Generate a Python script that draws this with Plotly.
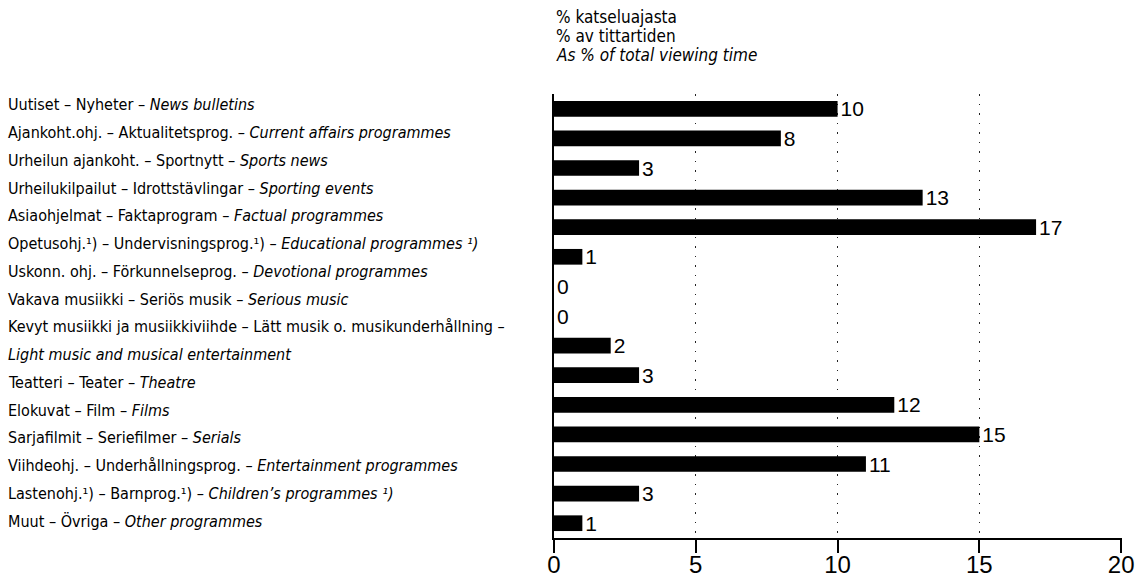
import plotly.graph_objects as go

categories = [
    "Uutiset – Nyheter – <i>News bulletins</i>",
    "Ajankoht.ohj. – Aktualitetsprog. – <i>Current affairs programmes</i>",
    "Urheilun ajankoht. – Sportnytt – <i>Sports news</i>",
    "Urheilukilpailut – Idrottstävlingar – <i>Sporting events</i>",
    "Asiaohjelmat – Faktaprogram – <i>Factual programmes</i>",
    "Opetusohj.¹) – Undervisningsprog.¹) – <i>Educational programmes ¹)</i>",
    "Uskonn. ohj. – Förkunnelseprog. – <i>Devotional programmes</i>",
    "Vakava musiikki – Seriös musik – <i>Serious music</i>",
    "Kevyt musiikki ja musiikkiviihde – Lätt musik o. musikunderhållning –<br><i>Light music and musical entertainment</i>",
    "Teatteri – Teater – <i>Theatre</i>",
    "Elokuvat – Film – <i>Films</i>",
    "Sarjafilmit – Seriefilmer – <i>Serials</i>",
    "Viihdeohj. – Underhållningsprog. – <i>Entertainment programmes</i>",
    "Lastenohj.¹) – Barnprog.¹) – <i>Children’s programmes ¹)</i>",
    "Muut – Övriga – <i>Other programmes</i>",
]
values = [10, 8, 3, 13, 17, 1, 0, 0, 2, 3, 12, 15, 11, 3, 1]
tick_values = [0, 5, 10, 15, 20]
title_lines = ["% katseluajasta", "% av tittartiden", "<i>As % of total viewing time</i>"]

W, H = 1147, 581
ML, MR, MT, MB = 554, 25, 94, 43
PW = W - ML - MR
PH = H - MT - MB

LABEL_FONT = "DejaVu Sans Condensed, Liberation Sans, Arial, sans-serif"
NUM_FONT = "Liberation Sans, Arial, sans-serif"


def paper_y(screen_y):
    return (H - MB - screen_y) / PH


fig = go.Figure()
fig.add_trace(go.Bar(
    x=values, y=categories, orientation="h",
    marker=dict(color="black", line=dict(width=0)),
    width=0.53,
    text=[str(v) for v in values], textposition="outside",
    constraintext="none",
    textfont=dict(family=NUM_FONT, size=21, color="black"),
    cliponaxis=False,
))

# left-hand labels: evenly spaced text lines, first/last aligned with first/last bar
n_cat = len(categories)
slot = PH / n_cat
first_bar_y = MT + slot / 2
last_bar_y = MT + slot * (n_cat - 0.5)
n_lines = sum(len(c.split("<br>")) for c in categories)
FIRST_LINE, LAST_LINE = first_bar_y - 4, last_bar_y - 2
step = (LAST_LINE - FIRST_LINE) / (n_lines - 1)

annotations = []
label_x = (6 - ML) / PW
line_idx = 0
for cat in categories:
    for ln in cat.split("<br>"):
        annotations.append(dict(
            x=label_x, xref="paper", y=paper_y(FIRST_LINE + step * line_idx), yref="paper",
            text=ln, showarrow=False, xanchor="left", yanchor="middle",
            font=dict(family=LABEL_FONT, size=16, color="black"),
        ))
        line_idx += 1

title_y = [17, 36, 55]
for t, sy in zip(title_lines, title_y):
    annotations.append(dict(
        x=0, xref="paper", y=paper_y(sy), yref="paper",
        text=t, showarrow=False, xanchor="left", yanchor="middle",
        font=dict(family=LABEL_FONT, size=17, color="black"),
    ))

fig.update_layout(
    width=W, height=H,
    margin=dict(l=ML, r=MR, t=MT, b=MB, pad=0, autoexpand=False),
    paper_bgcolor="white", plot_bgcolor="white",
    showlegend=False,
    annotations=annotations,
    xaxis=dict(
        range=[0, 20.03], tickvals=tick_values, ticktext=[str(v) for v in tick_values],
        showgrid=True, gridcolor="#222222", griddash="1.5px,8px", gridwidth=1.3,
        zeroline=False, showline=True, linecolor="black", linewidth=2,
        ticks="outside", ticklen=13, tickwidth=2, tickcolor="black",
        tickfont=dict(family=NUM_FONT, size=24, color="black"),
        ticklabelstandoff=-9,
        automargin=False, fixedrange=True,
    ),
    yaxis=dict(
        autorange="reversed", showticklabels=False, ticks="",
        showgrid=False, zeroline=False,
        showline=True, linecolor="black", linewidth=1.5,
        automargin=False, fixedrange=True,
    ),
)

fig.write_html("out.html", config={"displayModeBar": False},
               post_script="document.body.style.margin='0';")
